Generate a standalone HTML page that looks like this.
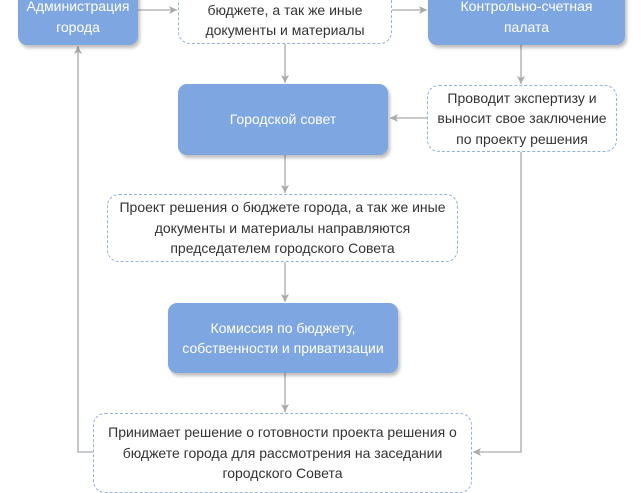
<!DOCTYPE html>
<html><head><meta charset="utf-8"><style>
html,body{margin:0;width:642px;height:470px;overflow:hidden;background:#fff;font-family:"Liberation Sans",Arial,sans-serif;font-size:14px;}
.b{position:absolute;box-sizing:border-box;display:flex;align-items:center;justify-content:center;text-align:center;line-height:20.5px;}
.s{background:#7ea6e0;color:#fff;border-radius:9px;box-shadow:2px 3px 3px rgba(0,0,0,0.25);}
.d{border:1px dashed #93b0de;border-radius:12px;color:#333;background:#fff;}
svg{position:absolute;left:0;top:0}
</style></head><body>
<svg width="642" height="470">
<defs><marker id="a" markerWidth="10" markerHeight="10" refX="9" refY="5" orient="auto" markerUnits="userSpaceOnUse"><path d="M1,1 L9,5 L1,9 L3,5z" fill="#aaa"/></marker></defs>
<g stroke="#aaa" stroke-width="1.3" fill="none" marker-end="url(#a)">
<path d="M138 10 H177"/>
<path d="M392 10 H427"/>
<path d="M285 44 V83"/>
<path d="M521 45 V84"/>
<path d="M427 118 H390"/>
<path d="M285 155 V193"/>
<path d="M285 262 V302"/>
<path d="M285 373 V412"/>
<path d="M93 452 H78 V46"/>
<path d="M521 152 V452 H473"/>
</g></svg>
<div class="b s" style="left:18px;top:-12px;width:120px;height:57px">Администрация<br>города</div>
<div class="b d" style="left:178px;top:-24px;width:214px;height:68px">о проекте решения о<br>бюджете, а так же иные<br>документы и материалы</div>
<div class="b s" style="left:428px;top:-12px;width:197px;height:57px">Контрольно-счетная<br>палата</div>
<div class="b s" style="left:178px;top:84px;width:210px;height:71px">Городской совет</div>
<div class="b d" style="left:427px;top:85px;width:190px;height:67px">Проводит экспертизу и<br>выносит свое заключение<br>по проекту решения</div>
<div class="b d" style="left:107px;top:194px;width:351px;height:68px">Проект решения о бюджете города, а так же иные<br>документы и материалы направляются<br>председателем городского Совета</div>
<div class="b s" style="left:168px;top:303px;width:230px;height:70px">Комиссия по бюджету,<br>собственности и приватизации</div>
<div class="b d" style="left:93px;top:413px;width:379px;height:80px;align-items:flex-start;padding-top:8px">Принимает решение о готовности проекта решения о<br>бюджете города для рассмотрения на заседании<br>городского Совета</div>
</body></html>
